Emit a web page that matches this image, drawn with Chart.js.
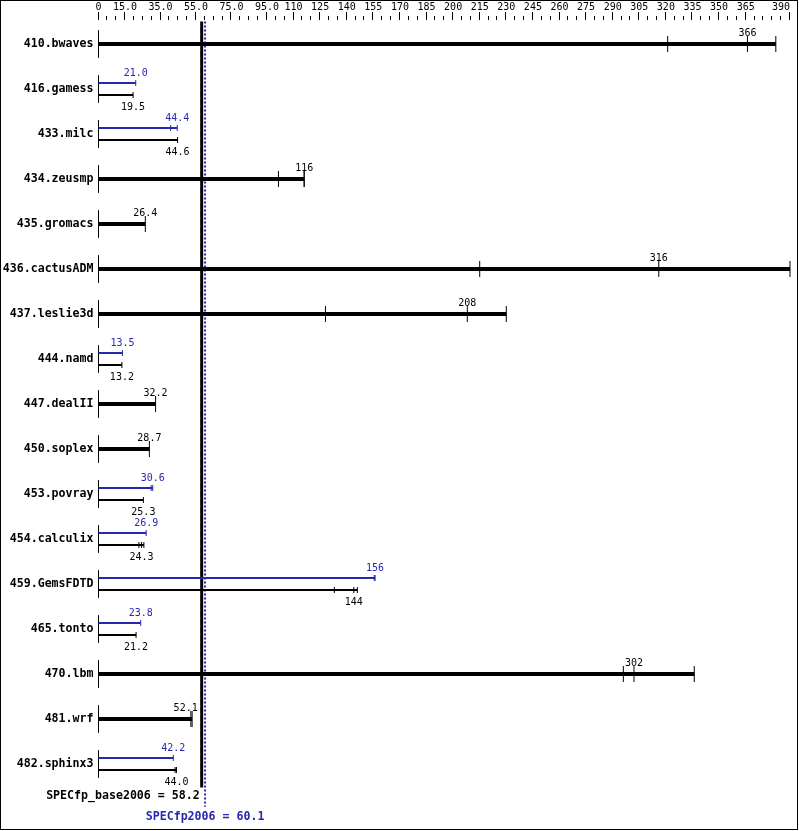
<!DOCTYPE html>
<html>
<head>
<meta charset="utf-8">
<script src="https://cdn.jsdelivr.net/npm/chart.js@4"></script>
<style>
  html, body { margin: 0; padding: 0; background: #fff; }
  canvas { display: block; }
</style>
</head>
<body>
<canvas id="chart" width="799" height="831"></canvas>
<script>
// Benchmarks, top to bottom
const benchmarks = [
    '410.bwaves', '416.gamess', '433.milc', '434.zeusmp', '435.gromacs',
    '436.cactusADM', '437.leslie3d', '444.namd', '447.dealII', '450.soplex',
    '453.povray', '454.calculix', '459.GemsFDTD', '465.tonto', '470.lbm',
    '481.wrf', '482.sphinx3'
];

// Median ratios (the printed numbers); null = no separate peak result
const baseScores = [366, 19.5, 44.6, 116, 26.4, 316, 208, 13.2, 32.2, 28.7, 25.3, 24.3, 144, 21.2, 302, 52.1, 44.0];
const peakScores = [null, 21.0, 44.4, null, null, null, null, 13.5, null, null, 30.6, 26.9, 156, 23.8, null, null, 42.2];

// Individual run ratios (small ticks on the bars)
const baseRuns = [
    [321, 366, 382], [19.5], [44.6], [101.5, 116, 116], [26.4],
    [215, 316, 390], [128, 208, 230], [13.2], [32.2], [28.7],
    [25.3], [22.8, 24.3, 25.6], [133, 144, 146], [21.2], [296, 302, 336],
    [52.1, 52.8], [43.2, 44.0]
];
const peakRuns = [
    [], [21.0], [40.7, 44.4], [], [],
    [], [], [13.5], [], [],
    [29.7, 30.6], [26.9], [155.5, 156], [23.8], [],
    [], [42.2]
];

// Axis labels along the top
const axisLabels = [0, 15, 35, 55, 75, 95, 110, 125, 140, 155, 170, 185, 200, 215, 230,
    245, 260, 275, 290, 305, 320, 335, 350, 365, 390];

// Overall results
const specBase = 58.2;
const specPeak = 60.1;

const BLUE = '#2727b0';
const MONO = '"DejaVu Sans Mono", monospace';
const SUB = 6 / 45;   // offset of the peak/base sub-bars inside a row

function fmt(v) {
    return v >= 100 ? String(Math.round(v)) : v.toFixed(1);
}

// Build line segments from 0 to the best run, separated by gaps
function barPoints(rows) {
    const pts = [];
    rows.forEach(r => pts.push({ x: 0, y: r.y }, { x: r.v, y: r.y }, { x: null, y: null }));
    return pts;
}

const peakBars = [], baseThin = [], baseThick = [];
const peakTicks = [], thinTicks = [], thickTicks = [], zeroTicks = [];
benchmarks.forEach((name, i) => {
    zeroTicks.push({ x: 0, y: i - 0.3 }, { x: 0, y: i + 0.3 }, { x: null, y: null });
    if (peakScores[i] === null) {
        baseThick.push({ v: Math.max(...baseRuns[i]), y: i });
        baseRuns[i].forEach(v => thickTicks.push({ x: v, y: i }));
    } else {
        peakBars.push({ v: Math.max(...peakRuns[i]), y: i - SUB });
        baseThin.push({ v: Math.max(...baseRuns[i]), y: i + SUB });
        peakRuns[i].forEach(v => peakTicks.push({ x: v, y: i - SUB }));
        baseRuns[i].forEach(v => thinTicks.push({ x: v, y: i + SUB }));
    }
});

const lineSet = (data, color, width, extra) => Object.assign({
    data, showLine: true, borderColor: color, borderWidth: width,
    pointRadius: 0, clip: false
}, extra || {});

const tickSet = (data, color, radius) => ({
    data, showLine: false, pointStyle: 'line', rotation: 90,
    pointRadius: radius, pointBorderColor: color, pointBorderWidth: 1,
    pointBackgroundColor: color, clip: false
});

// Tick marks on the top axis, value labels, result labels and frame
const decorations = {
    id: 'decorations',
    afterDatasetsDraw(chart) {
        const { ctx, scales: { x, y } } = chart;
        ctx.save();

        // minor ticks every 5, major ticks at the labelled values
        ctx.strokeStyle = '#000';
        ctx.lineWidth = 1;
        for (let v = 0; v <= 390; v += 5) {
            const px = Math.round(x.getPixelForValue(v)) - 0.5;
            const top = axisLabels.includes(v) ? 12 : 16;
            ctx.beginPath();
            ctx.moveTo(px, top);
            ctx.lineTo(px, 20);
            ctx.stroke();
        }

        // value labels, pushed left when they would cross the result lines
        const left = x.getPixelForValue(specBase) - 4;
        const right = x.getPixelForValue(specPeak) + 4;
        ctx.font = '10px ' + MONO;
        ctx.textAlign = 'center';
        ctx.textBaseline = 'middle';
        const label = (v, yPix, color) => {
            const text = fmt(v);
            const w = ctx.measureText(text).width;
            let cx = x.getPixelForValue(v);
            if (cx - w / 2 < right && cx + w / 2 > left) cx = left - w / 2;
            ctx.fillStyle = color;
            ctx.fillText(text, cx, yPix);
        };
        benchmarks.forEach((name, i) => {
            const yc = y.getPixelForValue(i);
            if (peakScores[i] === null) {
                label(baseScores[i], yc - 11, '#000');
            } else {
                label(peakScores[i], yc - 16, BLUE);
                label(baseScores[i], yc + 18, '#000');
            }
        });

        // overall results
        ctx.font = 'bold 11.6px ' + MONO;
        ctx.fillStyle = '#000';
        ctx.textAlign = 'right';
        ctx.fillText('SPECfp_base2006 = ' + specBase.toFixed(1), x.getPixelForValue(specBase) - 2, 796);
        ctx.fillStyle = BLUE;
        ctx.textAlign = 'center';
        ctx.fillText('SPECfp2006 = ' + specPeak.toFixed(1), x.getPixelForValue(specPeak), 817);

        // frame
        ctx.strokeStyle = '#000';
        ctx.strokeRect(0.5, 0.5, 797, 829);
        ctx.restore();
    }
};

new Chart(document.getElementById('chart'), {
    type: 'scatter',
    data: {
        datasets: [
            lineSet(barPoints(baseThick), '#000', 4),
            lineSet(barPoints(peakBars), BLUE, 2),
            lineSet(barPoints(baseThin), '#000', 2),
            tickSet(thickTicks, '#000', 8),
            tickSet(peakTicks, BLUE, 3),
            tickSet(thinTicks, '#000', 3),
            lineSet(zeroTicks, '#000', 1),
            lineSet([{ x: specBase, y: -0.5 }, { x: specBase, y: 16.52 }], '#000', 3),
            lineSet([{ x: specPeak, y: -0.5 }, { x: specPeak, y: 16.95 }], BLUE, 2, { borderDash: [2, 2] })
        ]
    },
    options: {
        responsive: false,
        animation: false,
        events: [],
        layout: { padding: { left: 0, right: 3.5, top: 0, bottom: 22 } },
        plugins: {
            legend: { display: false },
            tooltip: { enabled: false }
        },
        scales: {
            x: {
                type: 'linear',
                position: 'top',
                min: 0,
                max: 390,
                afterBuildTicks: s => { s.ticks = axisLabels.map(v => ({ value: v })); },
                afterFit: s => { s.height = 21.5; s.paddingLeft = 0; s.paddingRight = 0; },
                grid: { display: false, drawTicks: false },
                border: { display: false },
                ticks: {
                    autoSkip: false,
                    maxRotation: 0,
                    padding: 8.5,
                    color: '#000',
                    font: { family: MONO, size: 10 },
                    // last label is nudged left so it stays inside the frame
                    callback: v => v === 0 ? '0' : (v === 390 ? '390   ' : fmt(v))
                }
            },
            y: {
                type: 'linear',
                reverse: true,
                min: -0.5,
                max: 17,
                afterBuildTicks: s => { s.ticks = benchmarks.map((_, i) => ({ value: i })); },
                afterFit: s => { s.width = 98.5; s.paddingTop = 0; s.paddingBottom = 0; },
                grid: { display: false, drawTicks: false },
                border: { display: false },
                ticks: {
                    autoSkip: false,
                    padding: 5,
                    color: '#000',
                    font: { family: MONO, size: 11.6, weight: 'bold' },
                    callback: v => benchmarks[v] ?? ''
                }
            }
        }
    },
    plugins: [decorations]
});
</script>
</body>
</html>
